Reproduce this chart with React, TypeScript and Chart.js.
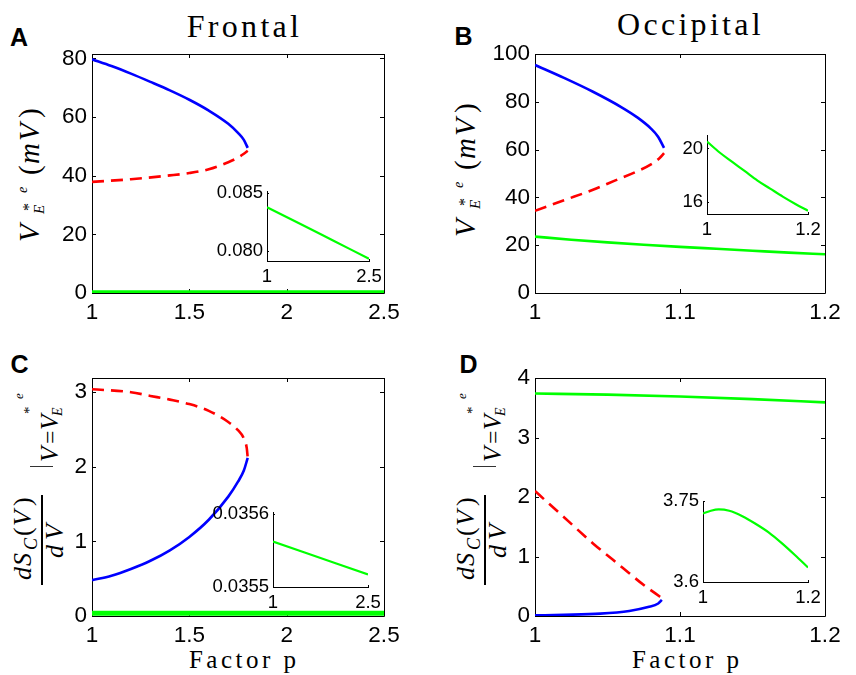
import React, { useEffect, useRef } from "react";
import { Chart, registerables } from "chart.js";

Chart.register(...registerables);

const SANS = '"Liberation Sans", Arial, Helvetica, sans-serif';
const SERIF = '"Liberation Serif", "Times New Roman", serif';

// ---------------- data ----------------
// Panel A – Frontal, V*_E^e (mV)
const A_BLUE_X = [1, 1.1, 1.2, 1.3, 1.4, 1.5, 1.6, 1.7, 1.75, 1.78, 1.8];
const A_BLUE_Y = [79.7, 77.4, 74.8, 72.0, 69.1, 65.9, 62.2, 57.7, 54.6, 52.2, 49.5];
const A_RED_X = [1, 1.2, 1.4, 1.5, 1.6, 1.7, 1.75, 1.78, 1.8];
const A_RED_Y = [37.9, 38.8, 40.1, 40.9, 42.2, 44.6, 46.2, 47.5, 48.5];
const A_GREEN_X = [1, 1.5, 2, 2.5];
const A_GREEN_Y = [0.0838, 0.0823, 0.0808, 0.0793];
const A_X_TICKS = [1, 1.5, 2, 2.5];
const A_X_LABELS = ["1", "1.5", "2", "2.5"];
const A_Y_TICKS = [0, 20, 40, 60, 80];
const A_Y_LABELS = ["0", "20", "40", "60", "80"];
const AI_X_TICKS = [1, 2.5];
const AI_X_LABELS = ["1", "2.5"];
const AI_Y_TICKS = [0.08, 0.085];
const AI_Y_LABELS = ["0.080", "0.085"];

// Panel B – Occipital, V*_E^e (mV)
const B_BLUE_X = [1, 1.02, 1.04, 1.06, 1.07, 1.08, 1.085, 1.089];
const B_BLUE_Y = [95.4, 90.0, 84.2, 77.6, 73.7, 68.8, 65.3, 60.7];
const B_RED_X = [1, 1.02, 1.04, 1.055, 1.07, 1.08, 1.086, 1.089];
const B_RED_Y = [34.4, 38.8, 43.2, 47.0, 50.8, 53.8, 56.5, 58.5];
const B_GREEN_X = [1, 1.025, 1.05, 1.075, 1.1, 1.125, 1.15, 1.175, 1.2];
const B_GREEN_Y = [23.6, 22.3, 21.2, 20.2, 19.3, 18.5, 17.7, 16.9, 16.2];
const BI_GREEN_X = [1, 1.025, 1.05, 1.075, 1.1, 1.125, 1.15, 1.175, 1.2];
const BI_GREEN_Y = [20.52, 19.7, 19.0, 18.3, 17.6, 17.0, 16.4, 15.85, 15.35];
const B_X_TICKS = [1, 1.1, 1.2];
const B_X_LABELS = ["1", "1.1", "1.2"];
const B_Y_TICKS = [0, 20, 40, 60, 80, 100];
const B_Y_LABELS = ["0", "20", "40", "60", "80", "100"];
const BI_X_TICKS = [1, 1.2];
const BI_X_LABELS = ["1", "1.2"];
const BI_Y_TICKS = [16, 20];
const BI_Y_LABELS = ["16", "20"];

// Panel C – Frontal, dS_C(V)/dV
const C_BLUE_X = [1, 1.1, 1.2, 1.3, 1.4, 1.5, 1.6, 1.7, 1.75, 1.78, 1.8];
const C_BLUE_Y = [0.48, 0.54, 0.63, 0.74, 0.88, 1.06, 1.29, 1.6, 1.8, 1.95, 2.12];
const C_RED_X = [1, 1.2, 1.3, 1.4, 1.5, 1.6, 1.7, 1.75, 1.78, 1.795, 1.8];
const C_RED_Y = [3.04, 3.0, 2.95, 2.9, 2.84, 2.75, 2.6, 2.49, 2.38, 2.25, 2.12];
const C_GREEN_X = [1, 1.5, 2, 2.5];
const C_GREEN_Y = [0.035562, 0.035547, 0.035532, 0.035517];
const C_Y_TICKS = [0, 1, 2, 3];
const C_Y_LABELS = ["0", "1", "2", "3"];
const CI_Y_TICKS = [0.0355, 0.0356];
const CI_Y_LABELS = ["0.0355", "0.0356"];

// Panel D – Occipital, dS_C(V)/dV
const D_BLUE_X = [1, 1.02, 1.045, 1.065, 1.078, 1.085, 1.0875];
const D_BLUE_Y = [0.01, 0.02, 0.04, 0.085, 0.15, 0.21, 0.27];
const D_RED_X = [1, 1.02, 1.04, 1.06, 1.075, 1.083, 1.0875];
const D_RED_Y = [2.1, 1.66, 1.22, 0.82, 0.52, 0.38, 0.3];
const D_GREEN_X = [1, 1.05, 1.1, 1.15, 1.2];
const D_GREEN_Y = [3.74, 3.72, 3.69, 3.645, 3.59];
const DI_GREEN_X = [1, 1.015, 1.03, 1.05, 1.075, 1.1, 1.125, 1.15, 1.175, 1.2];
const DI_GREEN_Y = [3.727, 3.732, 3.7345, 3.732, 3.722, 3.708, 3.692, 3.672, 3.65, 3.627];
const D_Y_TICKS = [0, 1, 2, 3, 4];
const D_Y_LABELS = ["0", "1", "2", "3", "4"];
const DI_Y_TICKS = [3.6, 3.75];
const DI_Y_LABELS = ["3.6", "3.75"];

// ---------------- styling ----------------
const BLUE = "#0000ff";
const RED = "#ff0000";
const GREEN = "#00ff00";
const DASH = [12, 7];

type Series = { x: number[]; y: number[]; color: string; width: number; dash?: number[]; clip?: number };
type Spec = {
  area: [number, number, number, number];
  xRange: [number, number];
  yRange: [number, number];
  xTicks: number[];
  xLabels: string[];
  yTicks: number[];
  yLabels: string[];
  series: Series[];
  inset?: boolean;
};

const boxPlugin = {
  id: "matlabBox",
  beforeDatasetsDraw(chart: any, _args: any, opts: any) {
    const { ctx, chartArea: ca } = chart;
    const xs = chart.scales.x;
    const ys = chart.scales.y;
    const L = Math.round(ca.left);
    const T = Math.round(ca.top);
    const R = Math.round(ca.right);
    const B = Math.round(ca.bottom);
    const len = opts.tickLen;
    ctx.save();
    ctx.strokeStyle = "#000";
    ctx.lineWidth = 1;
    ctx.beginPath();
    if (opts.inset) {
      ctx.moveTo(L + 0.5, T);
      ctx.lineTo(L + 0.5, B + 1);
      ctx.moveTo(L, B + 0.5);
      ctx.lineTo(R + 1, B + 0.5);
    } else {
      ctx.rect(L + 0.5, T + 0.5, R - L, B - T);
    }
    xs.ticks.forEach((t: any) => {
      const px = Math.round(xs.getPixelForValue(t.value)) + 0.5;
      ctx.moveTo(px, B);
      ctx.lineTo(px, B - len);
      if (!opts.inset) {
        ctx.moveTo(px, T);
        ctx.lineTo(px, T + len);
      }
    });
    ys.ticks.forEach((t: any) => {
      const py = Math.round(ys.getPixelForValue(t.value)) + 0.5;
      ctx.moveTo(L, py);
      ctx.lineTo(L + len, py);
      if (!opts.inset) {
        ctx.moveTo(R, py);
        ctx.lineTo(R - len, py);
      }
    });
    ctx.stroke();
    ctx.restore();
  },
};

function Panel({ spec }: { spec: Spec }) {
  const ref = useRef<HTMLCanvasElement>(null);
  const inset = !!spec.inset;
  const padL = inset ? 66 : 60;
  const padT = inset ? 14 : 20;
  const padR = inset ? 20 : 24;
  const padB = inset ? 30 : 40;
  const fontSize = inset ? 18.5 : 22.5;
  const [l, t, r, b] = spec.area;
  const W = r - l + padL + padR;
  const H = b - t + padT + padB;

  useEffect(() => {
    const chart = new Chart(ref.current as HTMLCanvasElement, {
      type: "line",
      data: {
        datasets: spec.series.map((s) => ({
          data: s.x.map((x, i) => ({ x, y: s.y[i] })),
          borderColor: s.color,
          borderWidth: s.width,
          borderDash: s.dash || [],
          borderCapStyle: "butt",
          pointRadius: 0,
          fill: false,
          cubicInterpolationMode: "monotone",
          ...(s.clip !== undefined ? { clip: s.clip } : {}),
        })),
      } as any,
      options: {
        responsive: false,
        animation: false,
        events: [],
        layout: { padding: { top: padT, right: padR, left: 0, bottom: 0 } },
        plugins: {
          legend: { display: false },
          tooltip: { enabled: false },
          matlabBox: { inset, tickLen: inset ? 2 : 4 },
        } as any,
        scales: {
          x: {
            type: "linear",
            min: spec.xRange[0],
            max: spec.xRange[1],
            grid: { display: false, drawTicks: false },
            border: { display: false },
            afterBuildTicks: (s: any) => {
              s.ticks = spec.xTicks.map((v) => ({ value: v }));
            },
            afterFit: (s: any) => {
              s.height = padB;
            },
            ticks: {
              autoSkip: false,
              maxRotation: 0,
              padding: inset ? 5 : 6,
              color: "#000",
              font: { family: SANS, size: fontSize },
              callback: (_v: any, i: number) => spec.xLabels[i],
            },
          },
          y: {
            type: "linear",
            min: spec.yRange[0],
            max: spec.yRange[1],
            grid: { display: false, drawTicks: false },
            border: { display: false },
            afterBuildTicks: (s: any) => {
              s.ticks = spec.yTicks.map((v) => ({ value: v }));
            },
            afterFit: (s: any) => {
              s.width = padL;
            },
            ticks: {
              autoSkip: false,
              padding: inset ? 4 : 5,
              color: "#000",
              font: { family: SANS, size: fontSize },
              callback: (_v: any, i: number) => spec.yLabels[i],
            },
          },
        },
      } as any,
      plugins: [boxPlugin as any],
    });
    return () => chart.destroy();
  }, []);

  return (
    <canvas
      ref={ref}
      width={W}
      height={H}
      style={{ position: "absolute", left: l - padL, top: t - padT, width: W, height: H }}
    />
  );
}

// ---------------- text helpers ----------------
function Txt(props: {
  x: number;
  base: number;
  size: number;
  serif?: boolean;
  italic?: boolean;
  bold?: boolean;
  ls?: number;
  center?: boolean;
  children: React.ReactNode;
}) {
  const asc = props.serif ? 0.8375 : 0.8465;
  return (
    <span
      style={{
        position: "absolute",
        left: props.x,
        top: props.base - asc * props.size,
        fontSize: props.size,
        lineHeight: `${props.size}px`,
        fontFamily: props.serif ? SERIF : SANS,
        fontStyle: props.italic ? "italic" : "normal",
        fontWeight: props.bold ? "bold" : "normal",
        letterSpacing: props.ls ? `${props.ls}px` : undefined,
        whiteSpace: "nowrap",
        color: "#000",
        transform: props.center ? "translateX(-50%)" : undefined,
      }}
    >
      {props.children}
    </span>
  );
}

function Rot(props: { cx: number; cy: number; w: number; h: number; children: React.ReactNode }) {
  return (
    <div
      style={{
        position: "absolute",
        left: props.cx - props.w / 2,
        top: props.cy - props.h / 2,
        width: props.w,
        height: props.h,
        transform: "rotate(-90deg)",
        transformOrigin: "center",
      }}
    >
      {props.children}
    </div>
  );
}

function VLabel({ cx, cy }: { cx: number; cy: number }) {
  return (
    <Rot cx={cx} cy={cy} w={150} h={44}>
      <Txt x={7} base={28.3} size={29} serif italic>V</Txt>
      <Txt x={38} base={23} size={16} serif>*</Txt>
      <Txt x={35} base={34} size={15} serif italic>E</Txt>
      <Txt x={56} base={16.5} size={14} serif italic>e</Txt>
      <Txt x={74} base={28} size={29} serif>(</Txt>
      <Txt x={85} base={28} size={29} serif italic>m</Txt>
      <Txt x={108} base={28} size={29} serif italic>V</Txt>
      <Txt x={131} base={28} size={29} serif>)</Txt>
    </Rot>
  );
}

function DLabel({ cx, cy }: { cx: number; cy: number }) {
  return (
    <Rot cx={cx} cy={cy} w={200} h={70}>
      <Txt x={10} base={28} size={26} serif italic>d</Txt>
      <Txt x={24} base={28} size={26} serif italic>S</Txt>
      <Txt x={40} base={33} size={18} serif italic>C</Txt>
      <Txt x={54} base={28} size={26} serif>(</Txt>
      <Txt x={64} base={28} size={26} serif italic>V</Txt>
      <Txt x={84} base={28} size={26} serif>)</Txt>
      <div style={{ position: "absolute", left: 5, top: 37, width: 90, height: 1.6, background: "#000" }} />
      <Txt x={32} base={60} size={26} serif italic>d</Txt>
      <Txt x={50} base={60} size={26} serif italic>V</Txt>
      <div style={{ position: "absolute", left: 122.5, top: 26, width: 1.2, height: 23, background: "#333" }} />
      <Txt x={128} base={54} size={25} serif italic>V</Txt>
      <Txt x={146} base={54} size={24} serif>=</Txt>
      <Txt x={160} base={54} size={25} serif italic>V</Txt>
      <Txt x={176} base={31} size={15} serif>*</Txt>
      <Txt x={174} base={59} size={14} serif italic>E</Txt>
      <Txt x={191} base={19} size={13} serif italic>e</Txt>
    </Rot>
  );
}

// ---------------- specs ----------------
const SPEC_A: Spec = {
  area: [92, 54, 384, 293],
  xRange: [1, 2.5],
  yRange: [0, 81.5],
  xTicks: A_X_TICKS,
  xLabels: A_X_LABELS,
  yTicks: A_Y_TICKS,
  yLabels: A_Y_LABELS,
  series: [
    { x: A_GREEN_X, y: A_GREEN_Y, color: GREEN, width: 5, clip: 0 },
    { x: A_RED_X, y: A_RED_Y, color: RED, width: 2.6, dash: DASH },
    { x: A_BLUE_X, y: A_BLUE_Y, color: BLUE, width: 2.6 },
  ],
};
const SPEC_AI: Spec = {
  area: [267, 190, 369, 261],
  xRange: [1, 2.5],
  yRange: [0.0791, 0.0852],
  xTicks: AI_X_TICKS,
  xLabels: AI_X_LABELS,
  yTicks: AI_Y_TICKS,
  yLabels: AI_Y_LABELS,
  inset: true,
  series: [{ x: A_GREEN_X, y: A_GREEN_Y, color: GREEN, width: 2.2 }],
};
const SPEC_B: Spec = {
  area: [535, 54, 825, 293],
  xRange: [1, 1.2],
  yRange: [0, 100],
  xTicks: B_X_TICKS,
  xLabels: B_X_LABELS,
  yTicks: B_Y_TICKS,
  yLabels: B_Y_LABELS,
  series: [
    { x: B_GREEN_X, y: B_GREEN_Y, color: GREEN, width: 2.6 },
    { x: B_RED_X, y: B_RED_Y, color: RED, width: 2.6, dash: DASH },
    { x: B_BLUE_X, y: B_BLUE_Y, color: BLUE, width: 2.6 },
  ],
};
const SPEC_BI: Spec = {
  area: [707, 134, 808, 214],
  xRange: [1, 1.2],
  yRange: [15.1, 21.0],
  xTicks: BI_X_TICKS,
  xLabels: BI_X_LABELS,
  yTicks: BI_Y_TICKS,
  yLabels: BI_Y_LABELS,
  inset: true,
  series: [{ x: BI_GREEN_X, y: BI_GREEN_Y, color: GREEN, width: 2.2 }],
};
const SPEC_C: Spec = {
  area: [92, 378, 384, 616],
  xRange: [1, 2.5],
  yRange: [0, 3.19],
  xTicks: A_X_TICKS,
  xLabels: A_X_LABELS,
  yTicks: C_Y_TICKS,
  yLabels: C_Y_LABELS,
  series: [
    { x: C_GREEN_X, y: C_GREEN_Y, color: GREEN, width: 5, clip: 0 },
    { x: C_RED_X, y: C_RED_Y, color: RED, width: 2.6, dash: DASH },
    { x: C_BLUE_X, y: C_BLUE_Y, color: BLUE, width: 2.6 },
  ],
};
const SPEC_CI: Spec = {
  area: [273, 511, 368, 587],
  xRange: [1, 2.5],
  yRange: [0.0355, 0.035602],
  xTicks: AI_X_TICKS,
  xLabels: AI_X_LABELS,
  yTicks: CI_Y_TICKS,
  yLabels: CI_Y_LABELS,
  inset: true,
  series: [{ x: C_GREEN_X, y: C_GREEN_Y, color: GREEN, width: 2.2 }],
};
const SPEC_D: Spec = {
  area: [535, 378, 825, 616],
  xRange: [1, 1.2],
  yRange: [0, 4],
  xTicks: B_X_TICKS,
  xLabels: B_X_LABELS,
  yTicks: D_Y_TICKS,
  yLabels: D_Y_LABELS,
  series: [
    { x: D_GREEN_X, y: D_GREEN_Y, color: GREEN, width: 2.6 },
    { x: D_RED_X, y: D_RED_Y, color: RED, width: 2.6, dash: DASH },
    { x: D_BLUE_X, y: D_BLUE_Y, color: BLUE, width: 2.6 },
  ],
};
const SPEC_DI: Spec = {
  area: [703, 500, 808, 582],
  xRange: [1, 1.2],
  yRange: [3.6, 3.75],
  xTicks: BI_X_TICKS,
  xLabels: BI_X_LABELS,
  yTicks: DI_Y_TICKS,
  yLabels: DI_Y_LABELS,
  inset: true,
  series: [{ x: DI_GREEN_X, y: DI_GREEN_Y, color: GREEN, width: 2.2 }],
};

export default function App() {
  return (
    <div style={{ position: "absolute", left: 0, top: 0, width: 856, height: 675, background: "#fff", overflow: "hidden" }}>
      <Txt x={244.5} base={36.5} size={32} serif ls={3.3} center>Frontal</Txt>
      <Txt x={690.5} base={34.5} size={32} serif ls={3.3} center>Occipital</Txt>
      <Txt x={244.2} base={668} size={25} serif ls={3.5} center>Factor p</Txt>
      <Txt x={687.2} base={668} size={25} serif ls={3.5} center>Factor p</Txt>

      <Txt x={10} base={46.2} size={25} bold>A</Txt>
      <Txt x={454.5} base={45} size={25} bold>B</Txt>
      <Txt x={10.5} base={373.5} size={25} bold>C</Txt>
      <Txt x={459.5} base={373.3} size={25} bold>D</Txt>

      <VLabel cx={33} cy={174} />
      <VLabel cx={469} cy={169} />
      <DLabel cx={39} cy={490} />
      <DLabel cx={482.3} cy={490} />

      <Panel spec={SPEC_A} />
      <Panel spec={SPEC_B} />
      <Panel spec={SPEC_C} />
      <Panel spec={SPEC_D} />
      <Panel spec={SPEC_AI} />
      <Panel spec={SPEC_BI} />
      <Panel spec={SPEC_CI} />
      <Panel spec={SPEC_DI} />
    </div>
  );
}
